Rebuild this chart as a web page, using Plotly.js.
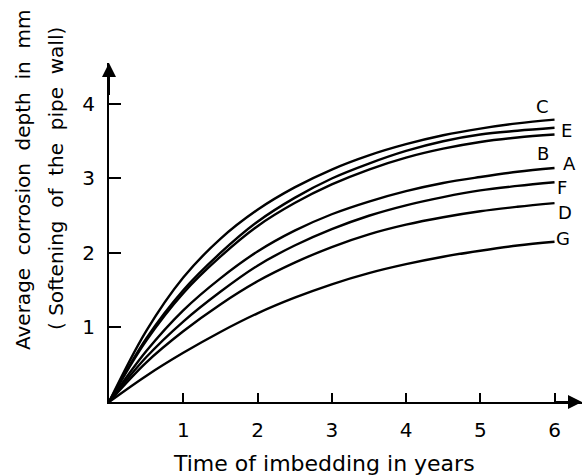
<!DOCTYPE html>
<html>
<head>
<meta charset="utf-8">
<script src="https://cdn.plot.ly/plotly-3.0.1.min.js"></script>
<style>html,body{margin:0;padding:0;background:#fff;}#chart{width:583px;height:476px;}</style>
</head>
<body>
<div id="chart"></div>
<script>
// Time of imbedding in years
const years = [0, 0.5, 1, 1.5, 2, 2.5, 3, 3.5, 4, 4.5, 5, 5.5, 6];
// Average corrosion depth in mm for each curve
const curveC = [0, 0.95, 1.67, 2.19, 2.58, 2.88, 3.12, 3.31, 3.46, 3.58, 3.67, 3.74, 3.79];
const curveE = [0, 0.85, 1.50, 2.00, 2.42, 2.74, 3.00, 3.20, 3.37, 3.50, 3.59, 3.64, 3.68];
const curveB = [0, 0.82, 1.46, 1.95, 2.36, 2.67, 2.92, 3.12, 3.28, 3.40, 3.49, 3.55, 3.59];
const curveA = [0, 0.68, 1.23, 1.66, 2.02, 2.30, 2.52, 2.69, 2.83, 2.94, 3.02, 3.09, 3.14];
const curveF = [0, 0.60, 1.08, 1.48, 1.83, 2.10, 2.32, 2.50, 2.64, 2.75, 2.84, 2.90, 2.95];
const curveD = [0, 0.53, 0.95, 1.31, 1.62, 1.87, 2.08, 2.25, 2.38, 2.48, 2.56, 2.62, 2.67];
const curveG = [0, 0.35, 0.66, 0.94, 1.19, 1.40, 1.58, 1.73, 1.85, 1.95, 2.03, 2.10, 2.15];
const curveNames = ["C", "E", "B", "A", "F", "D", "G"];
const curveValues = [curveC, curveE, curveB, curveA, curveF, curveD, curveG];
// Label anchor positions (data coords) for curve names
const labelX = [5.84, 6.16, 5.84, 6.2, 6.1, 6.14, 6.11];
const labelY = [3.97, 3.65, 3.33, 3.2, 2.88, 2.55, 2.19];
const xTicks = [1, 2, 3, 4, 5, 6];
const yTicks = [1, 2, 3, 4];
const xTitle = "Time of imbedding in years";
const yTitle1 = "Average  corrosion  depth  in  mm";
const yTitle2 = "( Softening  of  the  pipe  wall)";

const FONT = "DejaVu Sans, sans-serif";
const FS = 20;
const traces = curveValues.map((v, i) => ({
  x: years, y: v, type: "scatter", mode: "lines", name: curveNames[i],
  line: {color: "#000", width: 2.4, shape: "spline", smoothing: 1.0},
  hoverinfo: "skip", showlegend: false
}));

const W = 583, H = 476, L = 109, R = 1, T = 63, B = 74;
const pw = W - L - R, ph = H - T - B;
function px2paperX(p){ return (p - L) / pw; }
function px2paperY(p){ return (H - B - p) / ph; }

const annotations = curveNames.map((n, i) => ({
  x: labelX[i], y: labelY[i], xref: "x", yref: "y", text: n, showarrow: false,
  font: {family: FONT, size: 18, color: "#000"}
}));
// axis arrows
annotations.push({x: 6.37, y: 0, ax: 6.0, ay: 0, xref: "x", yref: "y", axref: "x", ayref: "y",
  showarrow: true, arrowhead: 2, arrowsize: 1.4, arrowwidth: 2, arrowcolor: "#000", text: ""});
annotations.push({x: 0, y: 4.55, ax: 0, ay: 4.1, xref: "x", yref: "y", axref: "x", ayref: "y",
  showarrow: true, arrowhead: 2, arrowsize: 1.4, arrowwidth: 2, arrowcolor: "#000", text: ""});
annotations.push({x: px2paperX(324), y: px2paperY(463), xref: "paper", yref: "paper", text: xTitle, showarrow: false,
  xanchor: "center", yanchor: "middle", font: {family: FONT, size: 22, color: "#000"}});
annotations.push({x: px2paperX(23), y: px2paperY(180), xref: "paper", yref: "paper", text: yTitle1, showarrow: false,
  xanchor: "center", yanchor: "middle", textangle: -90, font: {family: FONT, size: FS, color: "#000"}});
annotations.push({x: px2paperX(56), y: px2paperY(179), xref: "paper", yref: "paper", text: yTitle2, showarrow: false,
  xanchor: "center", yanchor: "middle", textangle: -90, font: {family: FONT, size: FS, color: "#000"}});

const layout = {
  width: W, height: H,
  margin: {l: L, r: R, t: T, b: B, pad: 0},
  paper_bgcolor: "#fff", plot_bgcolor: "#fff",
  showlegend: false,
  xaxis: {range: [0, 6.37], showgrid: false, zeroline: false, showline: true, linecolor: "#000", linewidth: 2,
    tickvals: xTicks, ticktext: xTicks.map(String), ticks: "inside", ticklen: 9, tickwidth: 2, tickcolor: "#000",
    ticklabelstandoff: 9, tickfont: {family: FONT, size: FS, color: "#000"}, fixedrange: true},
  yaxis: {range: [0, 4.55], showgrid: false, zeroline: false, showline: true, linecolor: "#000", linewidth: 2,
    tickvals: yTicks, ticktext: yTicks.map(String), ticks: "inside", ticklen: 12, tickwidth: 2, tickcolor: "#000",
    ticklabelstandoff: 8, tickfont: {family: FONT, size: FS, color: "#000"}, fixedrange: true},
  annotations: annotations
};
Plotly.newPlot("chart", traces, layout, {staticPlot: true, displayModeBar: false});
</script>
</body>
</html>
